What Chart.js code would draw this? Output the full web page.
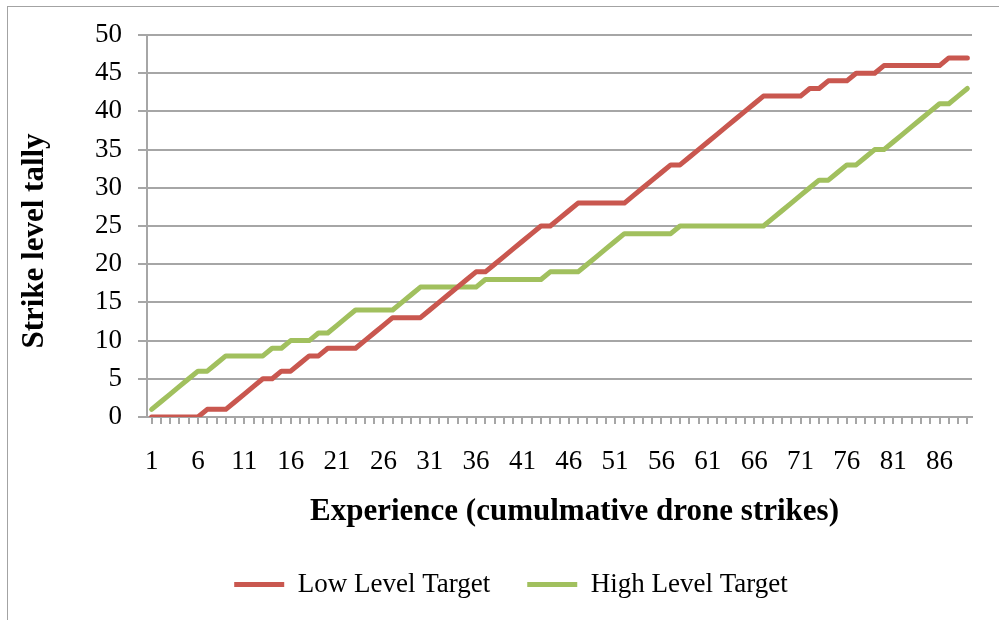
<!DOCTYPE html>
<html>
<head>
<meta charset="utf-8">
<script src="https://cdn.jsdelivr.net/npm/chart.js@4"></script>
<style>
  html, body { margin: 0; padding: 0; background: #fff; }
  #wrap { position: relative; width: 999px; height: 620px; overflow: hidden; }
  #frame { position: absolute; left: 7px; top: 6px; width: 1100px; height: 700px;
           border-left: 1px solid #a3a3a3; border-top: 1px solid #a3a3a3; }
  canvas { position: absolute; left: 0; top: 0; }
</style>
</head>
<body>
<div id="wrap">
  <div id="frame"></div>
  <canvas id="chart" width="999" height="620"></canvas>
</div>
<script>
// cumulative drone strikes (x categories)
const strikeCount = [
  1, 2, 3, 4, 5, 6, 7, 8, 9, 10, 11, 12, 13, 14, 15, 16, 17, 18, 19, 20,
  21, 22, 23, 24, 25, 26, 27, 28, 29, 30, 31, 32, 33, 34, 35, 36, 37, 38, 39, 40,
  41, 42, 43, 44, 45, 46, 47, 48, 49, 50, 51, 52, 53, 54, 55, 56, 57, 58, 59, 60,
  61, 62, 63, 64, 65, 66, 67, 68, 69, 70, 71, 72, 73, 74, 75, 76, 77, 78, 79, 80,
  81, 82, 83, 84, 85, 86, 87, 88, 89
];

const lowLevel = [
  0, 0, 0, 0, 0, 0, 1, 1, 1, 2, 3, 4, 5, 5, 6, 6, 7, 8, 8, 9,
  9, 9, 9, 10, 11, 12, 13, 13, 13, 13, 14, 15, 16, 17, 18, 19, 19, 20, 21, 22,
  23, 24, 25, 25, 26, 27, 28, 28, 28, 28, 28, 28, 29, 30, 31, 32, 33, 33, 34, 35,
  36, 37, 38, 39, 40, 41, 42, 42, 42, 42, 42, 43, 43, 44, 44, 44, 45, 45, 45, 46,
  46, 46, 46, 46, 46, 46, 47, 47, 47
];

const highLevel = [
  1, 2, 3, 4, 5, 6, 6, 7, 8, 8, 8, 8, 8, 9, 9, 10, 10, 10, 11, 11,
  12, 13, 14, 14, 14, 14, 14, 15, 16, 17, 17, 17, 17, 17, 17, 17, 18, 18, 18, 18,
  18, 18, 18, 19, 19, 19, 19, 20, 21, 22, 23, 24, 24, 24, 24, 24, 24, 25, 25, 25,
  25, 25, 25, 25, 25, 25, 25, 26, 27, 28, 29, 30, 31, 31, 32, 33, 33, 34, 35, 35,
  36, 37, 38, 39, 40, 41, 41, 42, 43
];

const xTitle = 'Experience (cumulmative drone strikes)';
const yTitle = 'Strike level tally';

const gridGrey = '#a6a6a6';
const serif = "'Liberation Serif', 'Times New Roman', serif";

// Excel puts the axis titles a little off the plot centre, so draw them here
const axisTitles = {
    id: 'axisTitles',
    afterDraw(chart) {
        const { ctx, chartArea } = chart;
        const midX = (chartArea.left + chartArea.right) / 2;
        const midY = (chartArea.top + chartArea.bottom) / 2;
        ctx.save();
        ctx.fillStyle = '#000';
        ctx.font = `bold 31px ${serif}`;
        ctx.textAlign = 'center';
        ctx.textBaseline = 'middle';
        ctx.fillText(xTitle, midX + 15, chartArea.bottom + 95);
        ctx.translate(35, midY + 15);
        ctx.rotate(-Math.PI / 2);
        ctx.fillText(yTitle, 0, 0);
        ctx.restore();
    }
};

new Chart(document.getElementById('chart'), {
    type: 'line',
    data: {
        labels: strikeCount,
        datasets: [
            {
                label: 'Low Level Target',
                data: lowLevel,
                borderColor: '#c9574f',
                backgroundColor: '#c9574f',
                borderWidth: 5,
                borderCapStyle: 'round',
                borderJoinStyle: 'round',
                pointRadius: 0,
                tension: 0
            },
            {
                label: 'High Level Target',
                data: highLevel,
                borderColor: '#a1c05e',
                backgroundColor: '#a1c05e',
                borderWidth: 5,
                borderCapStyle: 'round',
                borderJoinStyle: 'round',
                pointRadius: 0,
                tension: 0
            }
        ]
    },
    options: {
        responsive: false,
        animation: false,
        layout: { padding: { left: 50, top: 35, right: 27, bottom: 12 } },
        plugins: {
            tooltip: { enabled: false },
            legend: {
                position: 'bottom',
                labels: {
                    usePointStyle: true,
                    pointStyle: 'line',
                    pointStyleWidth: 50,
                    padding: 37,
                    color: '#000',
                    font: { family: serif, size: 27 }
                }
            }
        },
        scales: {
            x: {
                offset: true,
                afterFit: (scale) => { scale.height = 117; },
                grid: {
                    drawOnChartArea: false,
                    drawTicks: true,
                    tickLength: 7,
                    color: gridGrey,
                    lineWidth: 2
                },
                border: { color: gridGrey, width: 2 },
                ticks: {
                    autoSkip: false,
                    maxRotation: 0,
                    padding: 22,
                    color: '#000',
                    font: { family: serif, size: 27 },
                    callback: (value, index) => index % 5 === 0 ? String(strikeCount[index]) : ''
                }
            },
            y: {
                min: 0,
                max: 50,
                afterFit: (scale) => { scale.width = 97; },
                grid: {
                    drawTicks: true,
                    tickLength: 9,
                    color: gridGrey,
                    lineWidth: 2
                },
                border: { color: gridGrey, width: 2 },
                ticks: {
                    stepSize: 5,
                    padding: 16,
                    color: '#000',
                    font: { family: serif, size: 27 }
                }
            }
        }
    },
    plugins: [axisTitles]
});
</script>
</body>
</html>
